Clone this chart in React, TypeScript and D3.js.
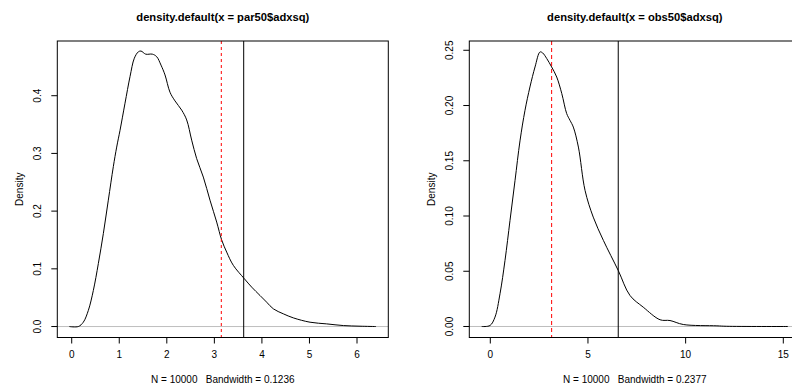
import React from "react";
import * as d3 from "d3";

const leftTitle = "density.default(x = par50$adxsq)";
const rightTitle = "density.default(x = obs50$adxsq)";
const leftSub = "N = 10000   Bandwidth = 0.1236";
const rightSub = "N = 10000   Bandwidth = 0.2377";

const leftX = [-0.05, 0.139, 0.244, 0.35, 0.455, 0.56, 0.665, 0.77, 0.875, 0.946, 1.016, 1.121, 1.226, 1.317, 1.401, 1.457, 1.556, 1.696, 1.787, 1.878, 1.962, 2.067, 2.172, 2.313, 2.418, 2.523, 2.628, 2.768, 2.908, 3.049, 3.154, 3.259, 3.399, 3.631, 3.785, 3.96, 4.1, 4.24, 4.451, 4.661, 5.012, 5.362, 5.713, 6.063, 6.4];
const leftY = [0, 0, 0.0075, 0.028, 0.0625, 0.109, 0.161, 0.219, 0.277, 0.311, 0.34, 0.387, 0.433, 0.465, 0.476, 0.4774, 0.472, 0.472, 0.4676, 0.453, 0.436, 0.406, 0.391, 0.375, 0.358, 0.323, 0.291, 0.259, 0.219, 0.181, 0.15, 0.129, 0.106, 0.0828, 0.0683, 0.0538, 0.0422, 0.0307, 0.022, 0.015, 0.0075, 0.0046, 0.0017, 0.0006, 0];

const rightX = [-0.44, -0.015, 0.24, 0.497, 0.753, 1.009, 1.265, 1.52, 1.777, 2.03, 2.29, 2.545, 2.68, 2.89, 3.14, 3.4, 3.66, 3.91, 4.08, 4.25, 4.51, 4.85, 5.27, 5.79, 6.55, 7.15, 7.83, 8.69, 9.2, 9.88, 11.6, 12.1, 15.24];
const rightY = [0, 0.0009, 0.0085, 0.0296, 0.0598, 0.096, 0.132, 0.168, 0.1957, 0.2168, 0.2349, 0.2485, 0.2476, 0.2425, 0.2349, 0.2258, 0.2108, 0.1927, 0.1866, 0.1805, 0.1624, 0.1232, 0.099, 0.0779, 0.0507, 0.0281, 0.0175, 0.0061, 0.0054, 0.0018, 0.0006, 0.0002, 0];

const leftXTicks = [0, 1, 2, 3, 4, 5, 6];
const leftYTicks = [0, 0.1, 0.2, 0.3, 0.4];
const rightXTicks = [0, 5, 10, 15];
const rightYTicks = [0, 0.05, 0.1, 0.15, 0.2, 0.25];

const leftXlim = [-0.303, 6.658];
const leftYlim = [-0.019, 0.4948];
const rightXlim = [-1.075, 15.87];
const rightYlim = [-0.00996, 0.2584];

const leftDashed = 3.146;
const leftSolid = 3.617;
const rightDashed = 3.14;
const rightSolid = 6.55;

const FONT = "'Liberation Sans', Arial, Helvetica, sans-serif";

type PanelProps = {
  ox: number;
  title: string;
  sub: string;
  xs: number[];
  ys: number[];
  xTicks: number[];
  yTicks: number[];
  xlim: number[];
  ylim: number[];
  yFmt: (v: number) => string;
  dashed: number;
  solid: number;
  dashColor: string;
  dashArray: string;
  clipId: string;
};

function Panel(p: PanelProps) {
  const L = p.ox + 57.3;
  const R = p.ox + 388.3;
  const T = 41;
  const B = 337.5;
  const x = d3.scaleLinear().domain(p.xlim).range([L, R]);
  const y = d3.scaleLinear().domain(p.ylim).range([B, T]);
  const pts = p.xs.map((v, i) => [v, p.ys[i]] as [number, number]);
  const line = d3
    .line<[number, number]>()
    .x((d) => x(d[0]))
    .y((d) => y(d[1]))
    .curve(d3.curveCatmullRom.alpha(0.5));
  const cx = (L + R) / 2;
  const tick = 6;
  return (
    <g fontFamily={FONT}>
      <defs>
        <clipPath id={p.clipId}>
          <rect x={L} y={T} width={R - L} height={B - T} />
        </clipPath>
      </defs>
      <text x={cx} y={21} textAnchor="middle" fontWeight="bold" fontSize={11.2}>
        {p.title}
      </text>
      <g clipPath={`url(#${p.clipId})`}>
        <line x1={L} x2={R} y1={y(0)} y2={y(0)} stroke="#BEBEBE" strokeWidth={1} />
        <path d={line(pts) || ""} fill="none" stroke="#000" strokeWidth={1} />
        <line x1={x(p.dashed)} x2={x(p.dashed)} y1={T} y2={B} stroke={p.dashColor} strokeWidth={1} strokeDasharray={p.dashArray} />
        <line x1={x(p.solid)} x2={x(p.solid)} y1={T} y2={B} stroke="#000" strokeWidth={1} />
      </g>
      <rect x={L} y={T} width={R - L} height={B - T} fill="none" stroke="#000" strokeWidth={1} />
      {p.xTicks.map((t) => (
        <g key={"x" + t}>
          <line x1={x(t)} x2={x(t)} y1={B} y2={B + tick} stroke="#000" />
          <text x={x(t)} y={357.5} textAnchor="middle" fontSize={10}>
            {t}
          </text>
        </g>
      ))}
      {p.yTicks.map((t) => (
        <g key={"y" + t}>
          <line x1={L - tick} x2={L} y1={y(t)} y2={y(t)} stroke="#000" />
          <text
            transform={`translate(${L - 16.5},${y(t)}) rotate(-90)`}
            textAnchor="middle"
            fontSize={10}
          >
            {p.yFmt(t)}
          </text>
        </g>
      ))}
      <text
        transform={`translate(${p.ox + 23},${(T + B) / 2}) rotate(-90)`}
        textAnchor="middle"
        fontSize={10}
      >
        Density
      </text>
      <text x={cx} y={382.5} textAnchor="middle" fontSize={10} style={{ whiteSpace: "pre" }}>
        {p.sub}
      </text>
    </g>
  );
}

export default function App() {
  return (
    <svg
      width={792}
      height={385}
      style={{ position: "absolute", left: 0, top: 0, background: "#fff" }}
    >
      <rect x={0} y={0} width={792} height={385} fill="#fff" />
      <Panel
        ox={0}
        title={leftTitle}
        sub={leftSub}
        xs={leftX}
        ys={leftY}
        xTicks={leftXTicks}
        yTicks={leftYTicks}
        xlim={leftXlim}
        ylim={leftYlim}
        yFmt={d3.format(".1f")}
        dashed={leftDashed}
        solid={leftSolid}
        dashColor="#FF0000"
        dashArray="3,3"
        clipId="clipL"
      />
      <Panel
        ox={412}
        title={rightTitle}
        sub={rightSub}
        xs={rightX}
        ys={rightY}
        xTicks={rightXTicks}
        yTicks={rightYTicks}
        xlim={rightXlim}
        ylim={rightYlim}
        yFmt={d3.format(".2f")}
        dashed={rightDashed}
        solid={rightSolid}
        dashColor="#FF0000"
        dashArray="4,3"
        clipId="clipR"
      />
    </svg>
  );
}
